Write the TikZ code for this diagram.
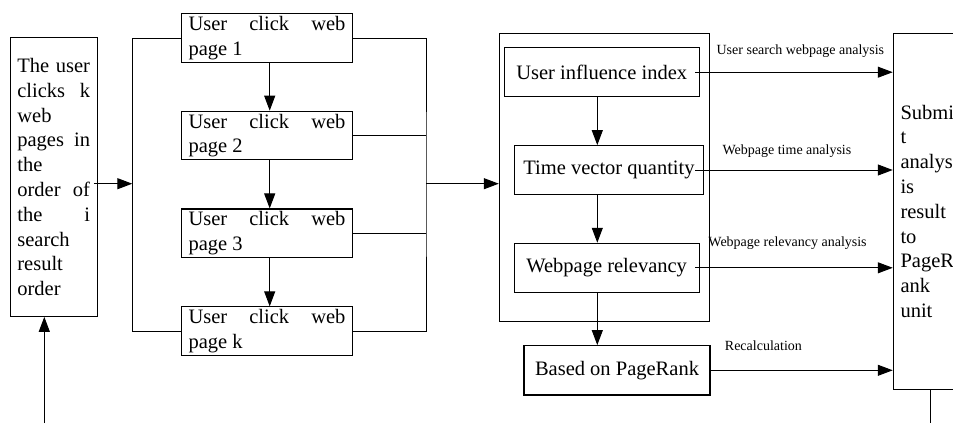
\documentclass[tikz,border=0pt]{standalone}
\usepackage{fontspec}
\setmainfont{Liberation Serif}
\usetikzlibrary{arrows.meta}

\begin{document}
\begin{tikzpicture}[
    x=1pt, y=-1pt,
    >={Triangle[length=15pt,width=11pt]},
    % Box Styles
    boxText/.style={
        font=\fontsize{20.5}{24.8}\selectfont
    },
    plainBox/.style={
        boxText,
        draw,
        line width=1.1pt,
        inner ysep=0pt,
        inner xsep=7pt
    },
    clickBox/.style={
        plainBox,
        minimum width=171.4pt,
        minimum height=48.6pt,
        text width=157pt,
        align=justify
    },
    stepBox/.style={
        plainBox,
        minimum height=49pt,
        align=center
    },
    % Connector Styles
    flowArrow/.style={->, line width=1pt},
    busLine/.style={line width=1pt},
    linkLabel/.style={
        font=\fontsize{14}{16}\selectfont,
        inner sep=0pt
    }
]

    \useasboundingbox (0,0) rectangle (953,423);

    % Left Input Box
    \node[plainBox, minimum width=87.3pt, minimum height=278.6pt,
          text width=72.7pt, inner xsep=7.3pt, align=justify] (order) at (53.7,177) {
        The user\linebreak clicks k\linebreak web\linebreak pages in\linebreak
        the\linebreak order of\linebreak the i\linebreak search\linebreak
        result\linebreak order
    };

    % Clicked Web Page Boxes
    \node[clickBox] (page1) at (267,38)    {User click web\linebreak page 1};
    \node[clickBox] (page2) at (267,135.5) {User click web\linebreak page 2};
    \node[clickBox] (page3) at (267,233.3) {User click web\linebreak page 3};
    \node[clickBox] (pageK) at (267,331.2) {User click web\linebreak page k};

    % Analysis Group
    \node[draw, line width=1.1pt, minimum width=209.7pt, minimum height=288.3pt,
          inner sep=0pt] (group) at (604.2,177.2) {};
    \node[stepBox, minimum width=194.7pt] (influence) at (601.7,72.2)  {User influence index};
    \node[stepBox, minimum width=189.4pt, minimum height=48.6pt] (timeVec) at (609,170) {Time vector quantity};
    \node[stepBox, minimum width=184.7pt] (relevancy) at (606.7,267.8) {Webpage relevancy};
    \node[stepBox, minimum width=186pt, minimum height=49.3pt] (pageRank) at (617,370.3) {Based on PageRank};

    % Right Output Box
    \node[plainBox, minimum width=80pt, minimum height=356.3pt,
          text width=65.6pt, inner xsep=7.2pt, align=left] (submit) at (933.3,211.2) {
        Submi\\t\\analys\\is\\result\\to\\PageR\\ank\\unit
    };

    % Bus Coordinates
    \coordinate (leftBus)  at (132.3,183.7);
    \coordinate (rightBus) at (426,183.7);
    \coordinate (stepX)    at (597.3,0);
    \coordinate (outX)     at (695,0);
    \coordinate (feedIn)   at (44.3,423);
    \coordinate (feedOut)  at (930.7,423);

    % Left Side Connectors
    \draw[flowArrow] (feedIn) -- (order.south -| feedIn);
    \draw[flowArrow] ([xshift=-4pt]order.east |- leftBus) -- (leftBus);
    \draw[busLine] (page1.west) -| (leftBus) |- (pageK.west);

    % Page Chain
    \draw[flowArrow] ([xshift=2.7pt]page1.south) -- ([xshift=2.7pt]page2.north);
    \draw[flowArrow] ([xshift=2.7pt]page2.south) -- ([xshift=2.7pt]page3.north);
    \draw[flowArrow] ([xshift=2.7pt]page3.south) -- ([xshift=2.7pt]pageK.north);

    % Right Bus
    \draw[busLine] (page1.east) -| (rightBus) |- (pageK.east);
    \draw[busLine] (page2.east) -- (page2.east -| rightBus);
    \draw[busLine] (page3.east) -- (page3.east -| rightBus);
    \draw[flowArrow] (rightBus) -- (rightBus -| group.west);

    % Analysis Chain
    \draw[flowArrow] (influence.south -| stepX) -- (timeVec.north -| stepX);
    \draw[flowArrow] (timeVec.south -| stepX) -- (relevancy.north -| stepX);
    \draw[flowArrow] (relevancy.south -| stepX) -- (pageRank.north -| stepX);

    % Outputs to Submit Box
    \draw[flowArrow] (influence.east -| outX) -- (influence.east -| submit.west)
        node[linkLabel, pos=0.533, yshift=21.3pt] {User search webpage analysis};
    \draw[flowArrow] (timeVec.east -| outX) -- (timeVec.east -| submit.west)
        node[linkLabel, pos=0.465, yshift=19.3pt] {Webpage time analysis};
    \draw[flowArrow] (relevancy.east -| outX) -- (relevancy.east -| submit.west)
        node[linkLabel, pos=0.468, yshift=24.3pt] {Webpage relevancy analysis};
    \draw[flowArrow] (pageRank.east) -- (pageRank.east -| submit.west)
        node[linkLabel, pos=0.29, yshift=24.3pt] {Recalculation};
    \draw[busLine] (submit.south -| feedOut) -- (feedOut);

\end{tikzpicture}
\end{document}
